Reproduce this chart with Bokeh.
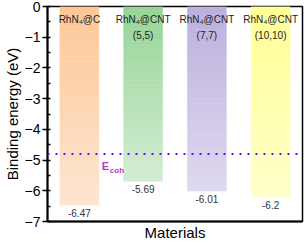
from bokeh.plotting import figure
from bokeh.models import Range1d, SingleIntervalTicker, FixedTicker, Span, ColumnDataSource
from bokeh.embed import file_html
from bokeh.resources import INLINE
from bokeh.core.properties import value

# ---- data ----
materials = ["RhN₄@C", "RhN₄@CNT\n(5,5)", "RhN₄@CNT\n(7,7)", "RhN₄@CNT\n(10,10)"]
positions = [1, 2, 3, 4]
binding = [-6.47, -5.69, -6.01, -6.2]
value_labels = ["-6.47", "-5.69", "-6.01", "-6.2"]
bar_base = 0.0
e_coh = -4.8

# gradient colours (top -> bottom)
top_colors = [(253, 199, 150), (150, 212, 150), (188, 176, 221), (255, 255, 150)]
bottom_colors = [(253, 229, 207), (210, 237, 210), (222, 216, 238), (255, 255, 200)]

FONT = "Liberation Sans"
BAR_W = 0.61
N = 40


def mix(c1, c2, t):
    return "#%02x%02x%02x" % tuple(int(round(a + (b - a) * t)) for a, b in zip(c1, c2))


xs, tops, bottoms, cols = [], [], [], []
for pos, v, c1, c2 in zip(positions, binding, top_colors, bottom_colors):
    for k in range(N):
        xs.append(pos)
        tops.append(bar_base + (v - bar_base) * k / N)
        bottoms.append(bar_base + (v - bar_base) * (k + 1) / N)
        cols.append(mix(c1, c2, k / (N - 1)))
slices = ColumnDataSource(dict(x=xs, top=tops, bottom=bottoms, color=cols))

p = figure(width=304, height=243, output_backend="svg", toolbar_location=None,
           x_range=Range1d(0.5, 4.5), y_range=Range1d(-7, 0),
           min_border_left=0, min_border_right=2, min_border_top=6, min_border_bottom=0)
p.background_fill_color = "white"
p.border_fill_color = "white"
p.xgrid.visible = False
p.ygrid.visible = False
p.outline_line_color = "black"
p.outline_line_width = 1.5

p.vbar(x="x", top="top", bottom="bottom", width=BAR_W, fill_color="color",
       line_color="color", line_width=0.5, source=slices)

p.add_layout(Span(location=e_coh, dimension="width", line_color="#7F00FF",
                  line_width=2, line_dash="2 6"))

# value labels below bars
p.text(x=positions, y=binding, text=value_labels, text_align="center",
       text_baseline="top", y_offset=4, text_font=value(FONT),
       text_font_size="10px", text_color="#333333")

# material labels at top of bars
p.text(x=positions, y=[bar_base] * 4, text=materials, text_align="center",
       text_baseline="top", y_offset=7, text_font=value(FONT),
       text_font_size="10px", text_color="#222222", text_line_height=1.5)

# E_coh label
ex = [positions[0] + BAR_W / 2]
p.text(x=ex, y=[e_coh], text=["E"], text_align="left", text_baseline="top",
       x_offset=3, y_offset=6, text_font=value(FONT), text_font_style="bold",
       text_font_size="11px", text_color="#B040D0")
p.text(x=ex, y=[e_coh], text=["coh"], text_align="left", text_baseline="top",
       x_offset=11, y_offset=12, text_font=value(FONT), text_font_style="bold",
       text_font_size="8px", text_color="#B040D0")

# y axis
ya = p.yaxis[0]
ya.ticker = SingleIntervalTicker(interval=1, num_minor_ticks=2)
ya.axis_label = "Binding energy (eV)"
ya.axis_label_text_font = FONT
ya.axis_label_text_font_style = "normal"
ya.axis_label_text_font_size = "15px"
ya.axis_label_text_color = "black"
ya.axis_label_standoff = 1
ya.major_label_text_font = FONT
ya.major_label_text_font_size = "14px"
ya.major_label_text_color = "black"
ya.major_label_standoff = 2
ya.major_tick_out = 5
ya.major_tick_in = 0
ya.minor_tick_in = 3
ya.minor_tick_out = 0
ya.axis_line_width = 2
ya.major_tick_line_width = 1.5
ya.minor_tick_line_width = 1.5

# x axis
xa = p.xaxis[0]
xa.ticker = FixedTicker(ticks=[])
xa.axis_label = "Materials"
xa.axis_label_text_font = FONT
xa.axis_label_text_font_style = "normal"
xa.axis_label_text_font_size = "15px"
xa.axis_label_text_color = "black"
xa.axis_label_standoff = 2
xa.major_label_text_font_size = "0px"
xa.major_label_standoff = 0
xa.major_tick_out = 0
xa.major_tick_in = 0
xa.minor_tick_out = 0
xa.minor_tick_in = 0
xa.axis_line_width = 2

open("out.html", "w").write(file_html(p, INLINE))
